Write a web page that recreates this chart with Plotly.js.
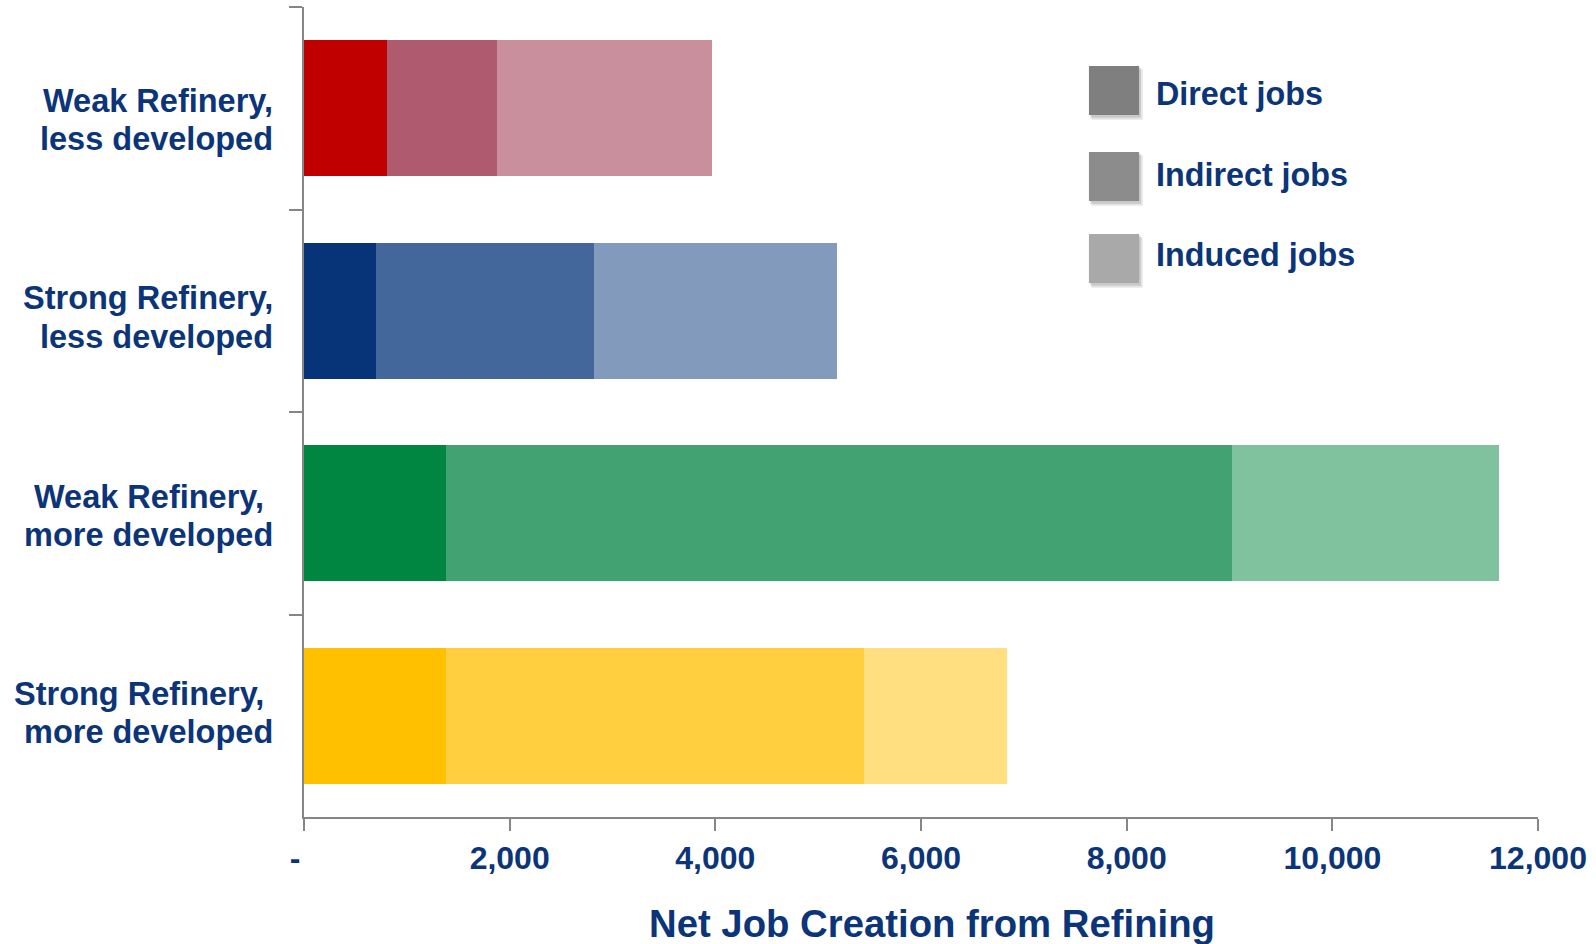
<!DOCTYPE html>
<html>
<head>
<meta charset="utf-8">
<script src="https://cdn.plot.ly/plotly-3.0.1.min.js"></script>
<style>
  html, body { margin: 0; padding: 0; background: #ffffff; }
  #chart { width: 1596px; height: 944px; }
</style>
</head>
<body>
<div id="chart"></div>
<script>
// ---- Data ----
const categories = [
  "Weak Refinery, less developed",
  "Strong Refinery, less developed",
  "Weak Refinery, more developed",
  "Strong Refinery, more developed"
];
const categoryLabelLine1 = ["Weak Refinery,", "Strong Refinery,", "Weak Refinery,&nbsp;", "Strong Refinery,&nbsp;"];
const categoryLabelLine2 = ["less developed", "less developed", "more developed", "more developed"];
const seriesNames = ["Direct jobs", "Indirect jobs", "Induced jobs"];
const directJobs   = [805, 700, 1385, 1385];
const indirectJobs = [1075, 2120, 7640, 4065];
const inducedJobs  = [2090, 2360, 2600, 1390];
const xTickValues = [0, 2000, 4000, 6000, 8000, 10000, 12000];
const xTickLabels = ["-&nbsp;&nbsp;", "2,000", "4,000", "6,000", "8,000", "10,000", "12,000"];
const xTitle = "Net Job Creation from Refining";

// ---- Styles ----
const navy = "#0B3578";
const axisGray = "#868686";
const fontFamily = "'Liberation Sans', Arial, sans-serif";
const directColors   = ["#C00000", "#073479", "#008641", "#FFC000"];
const indirectColors = ["#AF5A6E", "#43679B", "#42A271", "#FFCF40"];
const inducedColors  = ["#CA8F9C", "#829BBD", "#80C19E", "#FFDF80"];
const legendColors = ["#7F7F7F", "#8C8C8C", "#A9A9A9"];
const labelOffsets = [11.7, 6.6, 2.6, -2.7];   // downward offset of label block
const halfLine = 19.3;

const seriesValues = [directJobs, indirectJobs, inducedJobs];
const seriesColors = [directColors, indirectColors, inducedColors];

const traces = seriesValues.map((vals, i) => ({
  type: "bar",
  orientation: "h",
  name: seriesNames[i],
  x: vals,
  y: categories,
  marker: { color: seriesColors[i], line: { width: 0 } },
  showlegend: false,
  hoverinfo: "x+name"
}));

const annotations = [];
// Category labels (right-aligned, two lines)
categories.forEach((c, i) => {
  [categoryLabelLine1[i], categoryLabelLine2[i]].forEach((line, k) => {
    annotations.push({
      xref: "paper", yref: "y",
      x: 0, y: c,
      xanchor: "right", yanchor: "middle",
      xshift: -29,
      yshift: -labelOffsets[i] + (k === 0 ? halfLine : -halfLine),
      align: "right",
      showarrow: false,
      text: "<b>" + line + "</b>",
      font: { family: fontFamily, size: 32.5, color: navy }
    });
  });
});

// Axis title
annotations.push({
  xref: "paper", yref: "paper",
  x: 0.5, y: 0,
  xanchor: "center", yanchor: "middle",
  xshift: 11, yshift: -106,
  showarrow: false,
  text: "<b>" + xTitle + "</b>",
  font: { family: fontFamily, size: 38.3, color: navy }
});

// Legend (gray swatches with soft shadow)
const legendX0 = 0.6361, legendX1 = 0.6767;
const legendTops = [0.9272, 0.8210, 0.7198];
const legendTextY = [0.8931, 0.7926, 0.6944];
const swatchH = 0.0605;
const shapes = [];
legendTops.forEach((top, i) => {
  shapes.push({
    type: "rect", xref: "paper", yref: "paper",
    x0: legendX0 + 0.002, x1: legendX1 + 0.003,
    y0: top - swatchH - 0.006, y1: top - 0.004,
    line: { width: 0 }, fillcolor: "rgba(0,0,0,0.10)", layer: "above"
  });
  shapes.push({
    type: "rect", xref: "paper", yref: "paper",
    x0: legendX0 + 0.001, x1: legendX1 + 0.0015,
    y0: top - swatchH - 0.0035, y1: top - 0.002,
    line: { width: 0 }, fillcolor: "rgba(0,0,0,0.12)", layer: "above"
  });
  shapes.push({
    type: "rect", xref: "paper", yref: "paper",
    x0: legendX0, x1: legendX1,
    y0: top - swatchH, y1: top,
    line: { width: 0 }, fillcolor: legendColors[i], layer: "above"
  });
  annotations.push({
    xref: "paper", yref: "paper",
    x: 0.6890, y: legendTextY[i],
    xanchor: "left", yanchor: "middle",
    showarrow: false,
    text: "<b>" + seriesNames[i] + "</b>",
    font: { family: fontFamily, size: 32.3, color: navy }
  });
});

const layout = {
  width: 1596, height: 944,
  margin: { l: 304, r: 58, t: 7, b: 127, pad: 0 },
  paper_bgcolor: "#ffffff",
  plot_bgcolor: "#ffffff",
  barmode: "stack",
  bargap: 0.33,
  showlegend: false,
  font: { family: fontFamily, color: navy },
  xaxis: {
    range: [0, 12000],
    tickvals: xTickValues,
    ticktext: xTickLabels,
    ticks: "outside", ticklen: 12, tickwidth: 2, tickcolor: axisGray,
    showline: true, linecolor: axisGray, linewidth: 2,
    showgrid: false, zeroline: false,
    tickfont: { family: fontFamily, size: 32, color: navy, weight: "bold" },
    fixedrange: true
  },
  yaxis: {
    type: "category",
    categoryorder: "array",
    categoryarray: categories,
    autorange: "reversed",
    tickson: "boundaries",
    ticks: "outside", ticklen: 13, tickwidth: 2, tickcolor: axisGray,
    showline: true, linecolor: axisGray, linewidth: 2,
    showgrid: false, zeroline: false,
    showticklabels: false,
    fixedrange: true
  },
  annotations: annotations,
  shapes: shapes
};

Plotly.newPlot("chart", traces, layout, { displayModeBar: false, staticPlot: true });
</script>
</body>
</html>
